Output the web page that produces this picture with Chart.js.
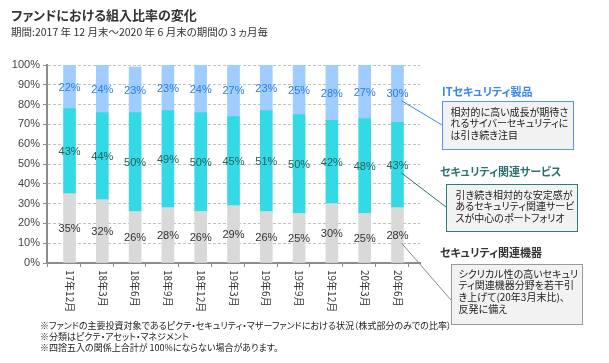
<!DOCTYPE html>
<html>
<head>
<meta charset="utf-8">
<script src="https://cdn.jsdelivr.net/npm/chart.js@4/dist/chart.umd.min.js"></script>
<style>
  body { margin: 0; width: 609px; height: 363px; background: #fff; position: relative; overflow: hidden;
         font-family: "Noto Sans CJK JP", sans-serif; color: #333; }
  canvas { position: absolute; left: 0; top: 0; }
  .t { position: absolute; white-space: nowrap; font-feature-settings: "palt"; line-height: 1; }
  .box { position: absolute; box-sizing: border-box; background: #f2f2f2; font-size: 10px; line-height: 11.7px;
         color: #222; font-feature-settings: "palt"; white-space: nowrap; }
</style>
</head>
<body>
<canvas id="chart" width="609" height="363"></canvas>

<div class="t" style="left:11px;top:8px;font-size:13px;font-weight:bold;color:#333">ファンドにおける組入比率の変化</div>
<div class="t" style="left:11px;top:27px;font-size:10.5px;color:#333">期間:2017 年 12 月末～2020 年 6 月末の期間の 3 ヵ月毎</div>

<div class="t" style="left:442px;top:86px;font-size:11px;font-weight:bold;color:#3a86ee">ITセキュリティ製品</div>
<div class="box" style="left:442px;top:101px;width:132px;height:49px;border:1.5px solid #5596ee;padding:3.5px 0 0 7.5px">相対的に高い成長が期待さ<br>れるサイバーセキュリティに<br>は引き続き注目</div>

<div class="t" style="left:440px;top:166px;font-size:11px;font-weight:bold;color:#2d7272">セキュリティ関連サービス</div>
<div class="box" style="left:446px;top:184px;width:132px;height:48px;border:1.5px solid #2f7a7a;padding:3.5px 0 0 8.5px">引き続き相対的な安定感が<br>あるセキュリティ関連サービ<br>スが中心のポートフォリオ</div>

<div class="t" style="left:440px;top:247px;font-size:11px;font-weight:bold;color:#333">セキュリティ関連機器</div>
<div class="box" style="left:451px;top:264px;width:132px;height:61px;border:1.5px solid #9a9a9a;padding:2.5px 0 0 6.5px">シクリカル性の高いセキュリ<br>ティ関連機器分野を若干引<br>き上げて(20年3月末比)、<br>反発に備え</div>

<div class="t" style="left:40px;top:321px;font-size:9px;color:#222">※ファンドの主要投資対象であるピクテ・セキュリティ・マザーファンドにおける状況（株式部分のみでの比率）</div>
<div class="t" style="left:40px;top:332px;font-size:9px;color:#222">※分類はピクテ・アセット・マネジメント</div>
<div class="t" style="left:40px;top:343px;font-size:9px;color:#222">※四捨五入の関係上合計が 100%にならない場合があります。</div>

<script>
// 3ヵ月毎の組入比率（％）
const months = ['17年12月', '18年3月', '18年6月', '18年9月', '18年12月', '19年3月',
                '19年6月', '19年9月', '19年12月', '20年3月', '20年6月'];
const itProducts = [22, 24, 23, 23, 24, 27, 23, 25, 28, 27, 30];
const services   = [43, 44, 50, 49, 50, 45, 51, 50, 42, 48, 43];
const equipment  = [35, 32, 26, 28, 26, 29, 26, 25, 30, 25, 28];
const yTicks = [0, 10, 20, 30, 40, 50, 60, 70, 80, 90, 100];

const labelColors = ['#333333', '#245f5f', '#2a7de1'];
const connectors = [
  { color: '#8a8a8a', to: [451, 300] },
  { color: '#2f7070', to: [446, 207] },
  { color: '#3a86ee', to: [442, 125] }
];

function points(arr) {
  return arr.map((v, i) => ({ x: i, y: v }));
}

const valueLabels = {
  id: 'valueLabels',
  afterDatasetsDraw(chart) {
    const ctx = chart.ctx;
    ctx.save();
    ctx.font = '11px "Liberation Sans", Arial, sans-serif';
    ctx.textAlign = 'center';
    ctx.textBaseline = 'middle';
    chart.data.datasets.forEach((ds, di) => {
      const meta = chart.getDatasetMeta(di);
      ctx.fillStyle = labelColors[di];
      meta.data.forEach((el, i) => {
        ctx.fillText(ds.data[i].y + '%', el.x, (el.y + el.base) / 2 + 1);
      });
      // 吹き出しへの線
      const last = meta.data[meta.data.length - 1];
      const mid = (last.y + last.base) / 2;
      ctx.strokeStyle = connectors[di].color;
      ctx.lineWidth = 1;
      ctx.beginPath();
      ctx.moveTo(last.x + 4, mid + 8);
      ctx.lineTo(connectors[di].to[0], connectors[di].to[1]);
      ctx.stroke();
    });
    ctx.restore();
  }
};

const monthLabels = {
  id: 'monthLabels',
  afterDraw(chart) {
    const ctx = chart.ctx;
    const xs = chart.scales.x;
    ctx.save();
    ctx.font = '10px "Noto Sans CJK JP", sans-serif';
    ctx.fillStyle = '#333';
    ctx.textAlign = 'left';
    ctx.textBaseline = 'middle';
    months.forEach((m, i) => {
      ctx.save();
      ctx.translate(xs.getPixelForValue(i), chart.chartArea.bottom + 7);
      ctx.rotate(Math.PI / 2);
      ctx.fillText(m, 0, 0);
      ctx.restore();
    });
    ctx.restore();
  }
};

const ctx = document.getElementById('chart').getContext('2d');
new Chart(ctx, {
  type: 'bar',
  data: {
    datasets: [
      { label: 'セキュリティ関連機器', data: points(equipment), backgroundColor: '#d9d9d9' },
      { label: 'セキュリティ関連サービス', data: points(services), backgroundColor: '#33dae5' },
      { label: 'ITセキュリティ製品', data: points(itProducts), backgroundColor: '#9fcdff' }
    ]
  },
  options: {
    responsive: false,
    devicePixelRatio: 1,
    animation: false,
    layout: { padding: { left: 0, top: 65, right: 189, bottom: 95 } },
    datasets: { bar: { barThickness: 12, clip: { left: 10, right: 10, top: 0, bottom: 0 } } },
    plugins: { legend: { display: false }, tooltip: { enabled: false } },
    scales: {
      x: {
        type: 'linear',
        stacked: true,
        min: -0.17,
        max: 10.17,
        afterBuildTicks: s => { s.ticks = months.map((m, i) => ({ value: i - 0.17 })); },
        afterFit: s => { s.height = 5; },
        ticks: { display: false },
        grid: { drawOnChartArea: false, tickLength: 4, tickColor: '#8c8c8c' },
        border: { color: '#8c8c8c', width: 2 }
      },
      y: {
        stacked: true,
        min: 0,
        max: 100,
        afterBuildTicks: s => { s.ticks = yTicks.map(v => ({ value: v })); },
        afterFit: s => { s.width = 47; },
        ticks: {
          callback: v => v + '%',
          color: '#444',
          padding: 3,
          font: { family: '"Liberation Sans", Arial, sans-serif', size: 11 }
        },
        grid: { color: '#c0c0c0', tickLength: 4, tickColor: '#8c8c8c' },
        border: { color: '#8c8c8c', width: 2, dash: [3, 2] }
      }
    }
  },
  plugins: [valueLabels, monthLabels]
});
</script>
</body>
</html>
